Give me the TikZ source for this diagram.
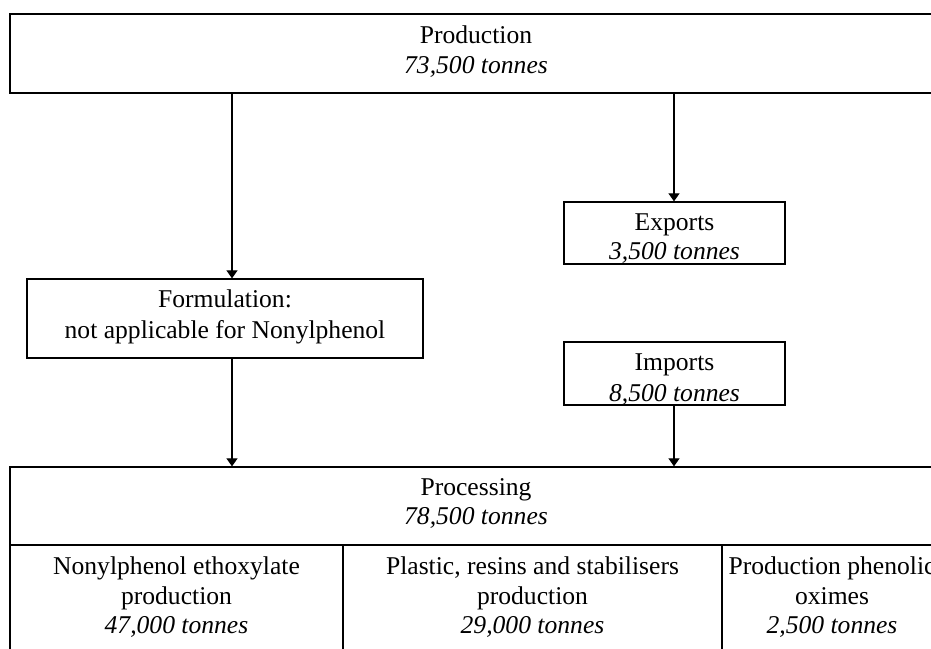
\documentclass[tikz,border=0pt]{standalone}
\usepackage{fontspec}
\setmainfont{Liberation Serif}
\usetikzlibrary{arrows.meta}
\begin{document}
\begin{tikzpicture}[x=1pt,y=-1pt,
  box/.style={draw, line width=1.3pt, inner sep=0pt},
  txt/.style={font=\fontsize{25.6}{29.5}\selectfont, anchor=base, inner sep=0pt},
  amount/.style={txt, font=\fontsize{25.6}{29.5}\selectfont\itshape},
  flow/.style={line width=1.2pt, -{Triangle[width=11pt,length=8pt]}}]
\useasboundingbox (0,0) rectangle (931,648);
\clip (0,0) rectangle (931,648);

% boxes
\node[box, minimum width=932pt, minimum height=79pt] (prod) at (476,53.5) {};
\node[box, minimum width=221pt, minimum height=62pt] (exp) at (674.5,233) {};
\node[box, minimum width=221pt, minimum height=63pt] (imp) at (674.5,373.5) {};
\node[box, minimum width=396pt, minimum height=79pt] (form) at (225,318.5) {};
\node[box, minimum width=932pt, minimum height=78pt] (proc) at (476,506) {};
\node[box, minimum width=333pt, minimum height=115pt] (npe) at (176.5,602.5) {};
\node[box, minimum width=379pt, minimum height=115pt] (prs) at (532.5,602.5) {};
\node[box, minimum width=220pt, minimum height=115pt] (ppo) at (832,602.5) {};

% texts
\node[txt] (prodT) at (476,43) {Production};
\node[amount] (prodA) at (476,73) {73,500 tonnes};
\node[txt] (expT) at (674.5,230) {Exports};
\node[amount] (expA) at (674.5,259) {3,500 tonnes};
\node[txt] (impT) at (674.5,370) {Imports};
\node[amount] (impA) at (674.5,401) {8,500 tonnes};
\node[txt] (formT) at (225,307) {Formulation:};
\node[txt] (formB) at (225,338) {not applicable for Nonylphenol};
\node[txt] (procT) at (476,495) {Processing};
\node[amount] (procA) at (476,524) {78,500 tonnes};
\node[txt] (npeT) at (176.5,574) {Nonylphenol ethoxylate};
\node[txt] (npeB) at (176.5,604) {production};
\node[amount] (npeA) at (176.5,633) {47,000 tonnes};
\node[txt] (prsT) at (532.5,574) {Plastic, resins and stabilisers};
\node[txt] (prsB) at (532.5,604) {production};
\node[amount] (prsA) at (532.5,633) {29,000 tonnes};
\node[txt] (ppoT) at (832,574) {Production phenolic};
\node[txt] (ppoB) at (832,604) {oximes};
\node[amount] (ppoA) at (832,633) {2,500 tonnes};

% flows
\coordinate (left) at (232,0);
\coordinate (right) at (674,0);
\draw[flow] (prod.south -| left) -- (form.north -| left);
\draw[flow] (form.south -| left) -- (proc.north -| left);
\draw[flow] (prod.south -| right) -- (exp.north -| right);
\draw[flow] (imp.south -| right) -- (proc.north -| right);
\end{tikzpicture}
\end{document}
